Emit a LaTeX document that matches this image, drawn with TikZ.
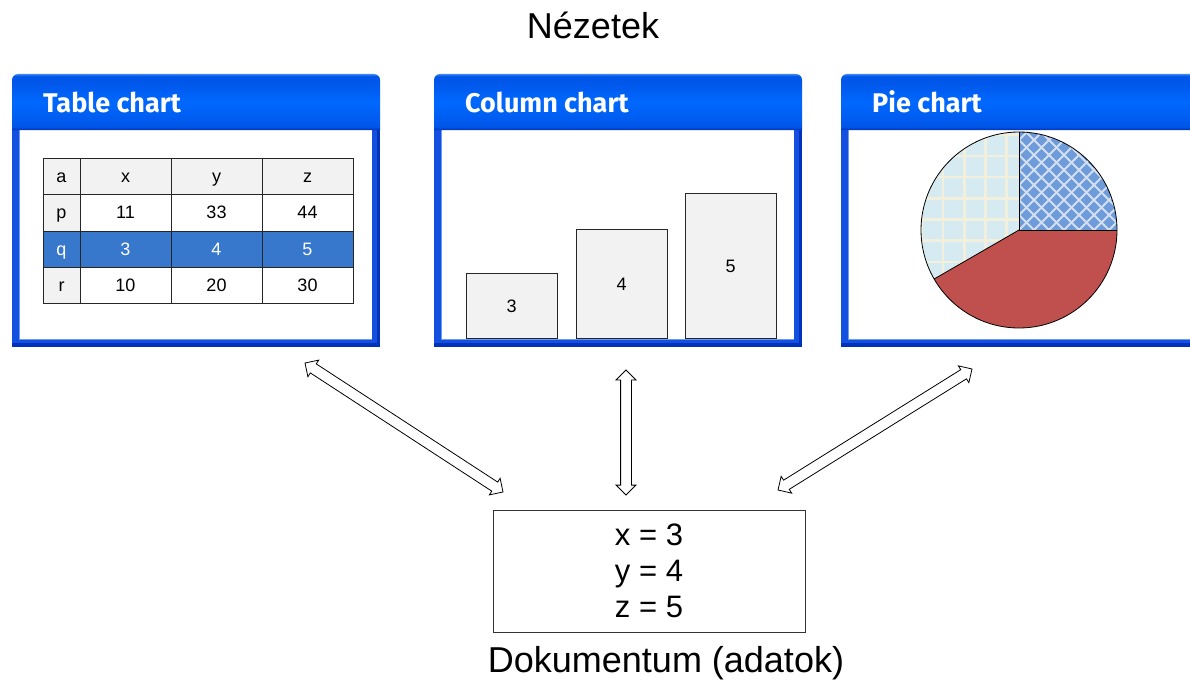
\documentclass[tikz,border=0pt]{standalone}
\usepackage{fontspec}
\setmainfont{Liberation Sans}
\newfontfamily\titlefont{Fira Sans}
\usetikzlibrary{shapes.arrows,calc}
\definecolor{winborder}{HTML}{1450E0}
\definecolor{winborderdark}{HTML}{0033BB}
\definecolor{winlight}{HTML}{6A9AF5}
\definecolor{tbdark}{HTML}{0034BC}
\definecolor{tbmain}{HTML}{0056E8}
\definecolor{tbbright}{HTML}{0068FF}
\definecolor{tblight}{HTML}{3D85F2}
\definecolor{cellgray}{HTML}{F2F2F2}
\definecolor{selblue}{HTML}{3777CC}
\definecolor{piered}{HTML}{C0504D}
\definecolor{pieblue}{HTML}{6E9CDA}
\definecolor{pielight}{HTML}{D5EBF1}
\definecolor{gridline}{HTML}{F2EFDC}
\definecolor{diagline}{HTML}{D3DFEE}
\pgfdeclareverticalshading{titlebar}{100bp}{color(0bp)=(tbdark); color(25bp)=(tbdark); color(28bp)=(tbmain); color(50bp)=(tbbright); color(68bp)=(tbmain); color(73bp)=(tbmain); color(75bp)=(tblight); color(100bp)=(tblight)}
\newcommand\mkwindow[4]{%
  \fill[winborder] (#2,-128) rectangle (#3,-347);
  \fill[winborderdark] (#3-3,-128) rectangle (#3,-347);
  \fill[winborderdark] (#2,-343) rectangle (#3,-347);
  \fill[white] (#2+7,-130) rectangle (#3-8,-339);
  \draw[winlight,line width=1pt] (#2+7,-130) -- (#2+7,-339) -- (#3-8,-339);
  \shade[shading=titlebar] (#2,-130) -- (#2,-80) arc[start angle=180,end angle=90,radius=6] -- (#3-6,-74) arc[start angle=90,end angle=0,radius=6] -- (#3,-130) -- cycle;
  \node[wintitle] (#1) at (#2+31,-113) {#4};
}
\begin{document}
\begin{tikzpicture}[x=1pt,y=1pt,
  wintitle/.style={anchor=base west,inner sep=0,text=white,font=\titlefont\bfseries\fontsize{27}{32}\selectfont},
  label/.style={inner sep=0,font=\fontsize{36}{43}\selectfont},
  tcell/.style={inner sep=0,text height=12.9pt,text depth=0pt,font=\fontsize{18}{22}\selectfont},
  bar/.style={draw=black!85,fill=cellgray,line width=0.8pt,anchor=south,inner sep=0},
  dblarr/.style={double arrow,draw=black,fill=white,line width=0.8pt,inner xsep=0,inner ysep=5pt,double arrow head extend=4.5pt},
  docbox/.style={draw=black!80,line width=0.8pt,minimum width=312,minimum height=122,align=center,font=\fontsize{31}{36}\selectfont}
]
\clip (0,0) rectangle (1190,-682);
\fill[white] (0,0) rectangle (1190,-682);

% title
\node[label] (views) at (593,-25) {Nézetek};

% windows
\mkwindow{tabletitle}{12}{380}{Table chart}
\mkwindow{columntitle}{434}{802}{Column chart}
\mkwindow{pietitle}{841}{1200}{Pie chart}

% table
\fill[cellgray] (43,-158) rectangle (353,-194);
\fill[cellgray] (43,-158) rectangle (80,-303);
\fill[selblue] (43,-231) rectangle (353,-267);
\draw[black!85,line width=0.8pt] (43,-158) rectangle (353,-303);
\foreach \xx in {80,171,262} \draw[black!85,line width=0.8pt] (\xx,-158) -- (\xx,-303);
\foreach \yy in {194,231,267} \draw[black!85,line width=0.8pt] (43,-\yy) -- (353,-\yy);
\foreach \r/\yy/\ca/\cb/\cc/\cd/\clr in {1/176/a/x/y/z/black, 2/212.5/p/11/33/44/black, 3/249/q/3/4/5/white, 4/285/r/10/20/30/black}{
  \node[tcell,text=\clr] (t\r a) at (61.5,-\yy) {\ca};
  \node[tcell,text=\clr] (t\r b) at (125.5,-\yy) {\cb};
  \node[tcell,text=\clr] (t\r c) at (216.5,-\yy) {\cc};
  \node[tcell,text=\clr] (t\r d) at (307.5,-\yy) {\cd};
}

% columns
\node[bar,minimum width=91,minimum height=65] (bar3) at (511.5,-339) {};
\node[tcell] (bl3) at (bar3.center) {3};
\node[bar,minimum width=91,minimum height=109] (bar4) at (621.5,-339) {};
\node[tcell] (bl4) at (bar4.center) {4};
\node[bar,minimum width=91,minimum height=145] (bar5) at (730.5,-339) {};
\node[tcell] (bl5) at (bar5.center) {5};

% pie
\coordinate (pc) at (1019,-230);
\begin{scope}
  \clip (pc) -- ++(0:98) arc[start angle=0,end angle=90,radius=98] -- cycle;
  \fill[pieblue] (pc) circle[radius=100];
  \foreach \c in {-20,...,20}{
    \draw[diagline,line width=1.8pt] ($(pc)+(15*\c-150,-150)$) -- ++(300,300);
    \draw[diagline,line width=1.8pt] ($(pc)+(15*\c-150,150)$) -- ++(300,-300);
  }
\end{scope}
\begin{scope}
  \clip (pc) -- ++(90:98) arc[start angle=90,end angle=210,radius=98] -- cycle;
  \fill[pielight] (pc) circle[radius=100];
  \foreach \i in {-7,...,7}{
    \draw[gridline,line width=2.5pt] ($(pc)+(-12.3+21.2*\i,-120)$) -- ++(0,240);
    \draw[gridline,line width=2.5pt] ($(pc)+(-120,-10.7+21.2*\i)$) -- ++(240,0);
  }
\end{scope}
\fill[piered] (pc) -- ++(210:98) arc[start angle=210,end angle=360,radius=98] -- cycle;
\draw[black,line width=0.8pt] (pc) circle[radius=98];
\draw[black,line width=0.8pt] ($(pc)+(0,98)$) -- (pc) -- ($(pc)+(98,0)$);
\draw[black,line width=0.8pt] (pc) -- ($(pc)+(210:98)$);

% document
\node[docbox] (doc) at (649,-571) {x = 3\\y = 4\\z = 5};
\node[label] (doclabel) at (666,-663) {Dokumentum (adatok)};

% arrows
\coordinate (ta) at (305,-363);
\coordinate (da) at (503,-492);
\coordinate (tb) at (626,-370);
\coordinate (db) at (626,-495);
\coordinate (tc) at (972,-369);
\coordinate (dc) at (778,-490);
\foreach \src/\dst in {ta/da,tb/db,tc/dc}{
  \path let \p1=($(\dst)-(\src)$), \n1={atan2(\y1,\x1)}, \n2={veclen(\x1,\y1)} in
    node[dblarr,rotate=\n1,minimum height=\n2] (arr\src) at ($(\src)!0.5!(\dst)$) {};
}
\end{tikzpicture}
\end{document}
